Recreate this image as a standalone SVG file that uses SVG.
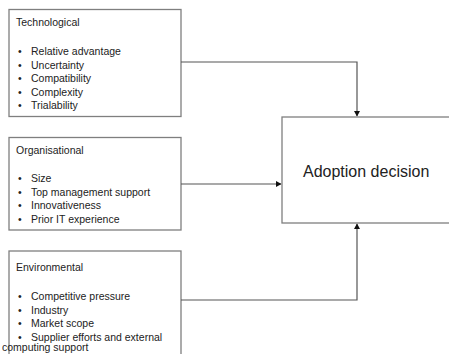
<svg xmlns="http://www.w3.org/2000/svg" width="449" height="354" viewBox="0 0 449 354">
<style>
.box{fill:#fff;stroke:#7f7f7f;stroke-width:1.3}
.t{font-family:"Liberation Sans",Arial,sans-serif;font-size:10.5px;fill:#222}
.big{font-family:"Liberation Sans",Arial,sans-serif;font-size:16px;fill:#222}
.c{fill:none;stroke:#555;stroke-width:1.2}
</style>
<defs>
<marker id="ah" markerWidth="6" markerHeight="6" refX="5" refY="3" orient="auto" markerUnits="userSpaceOnUse">
<path d="M0,0 L5.5,3 L0,6 Z" fill="#111"/>
</marker>
</defs>
<rect width="449" height="354" fill="#fff"/>
<g id="technological">
<rect class="box" x="9" y="9.5" width="172" height="107"/>
<text class="t" x="16" y="26">Technological</text>
<text class="t" x="18" y="55">•</text><text class="t" x="31" y="55">Relative advantage</text>
<text class="t" x="18" y="68.5">•</text><text class="t" x="31" y="68.5">Uncertainty</text>
<text class="t" x="18" y="82">•</text><text class="t" x="31" y="82">Compatibility</text>
<text class="t" x="18" y="95.5">•</text><text class="t" x="31" y="95.5">Complexity</text>
<text class="t" x="18" y="109">•</text><text class="t" x="31" y="109">Trialability</text>
</g>
<g id="organisational">
<rect class="box" x="9" y="137.5" width="172" height="92.5"/>
<text class="t" x="16" y="154">Organisational</text>
<text class="t" x="18" y="182">•</text><text class="t" x="31" y="182">Size</text>
<text class="t" x="18" y="195.5">•</text><text class="t" x="31" y="195.5">Top management support</text>
<text class="t" x="18" y="209">•</text><text class="t" x="31" y="209">Innovativeness</text>
<text class="t" x="18" y="222.5">•</text><text class="t" x="31" y="222.5">Prior IT experience</text>
</g>
<g id="environmental">
<rect class="box" x="9" y="251" width="172" height="110"/>
<text class="t" x="16" y="271">Environmental</text>
<text class="t" x="18" y="300">•</text><text class="t" x="31" y="300">Competitive pressure</text>
<text class="t" x="18" y="313.5">•</text><text class="t" x="31" y="313.5">Industry</text>
<text class="t" x="18" y="327">•</text><text class="t" x="31" y="327">Market scope</text>
<text class="t" x="18" y="340.5">•</text><text class="t" x="31" y="340.5">Supplier efforts and external</text>
<text class="t" x="2" y="351">computing support</text>
</g>
<g id="adoption">
<rect class="box" x="282" y="117" width="170" height="106"/>
<text class="big" x="303" y="177">Adoption decision</text>
</g>
<g id="connectors">
<path class="c" d="M181,62 H357 V116" marker-end="url(#ah)"/>
<path class="c" d="M181,184 H281" marker-end="url(#ah)"/>
<path class="c" d="M181,300 H357 V224" marker-end="url(#ah)"/>
</g>
</svg>
